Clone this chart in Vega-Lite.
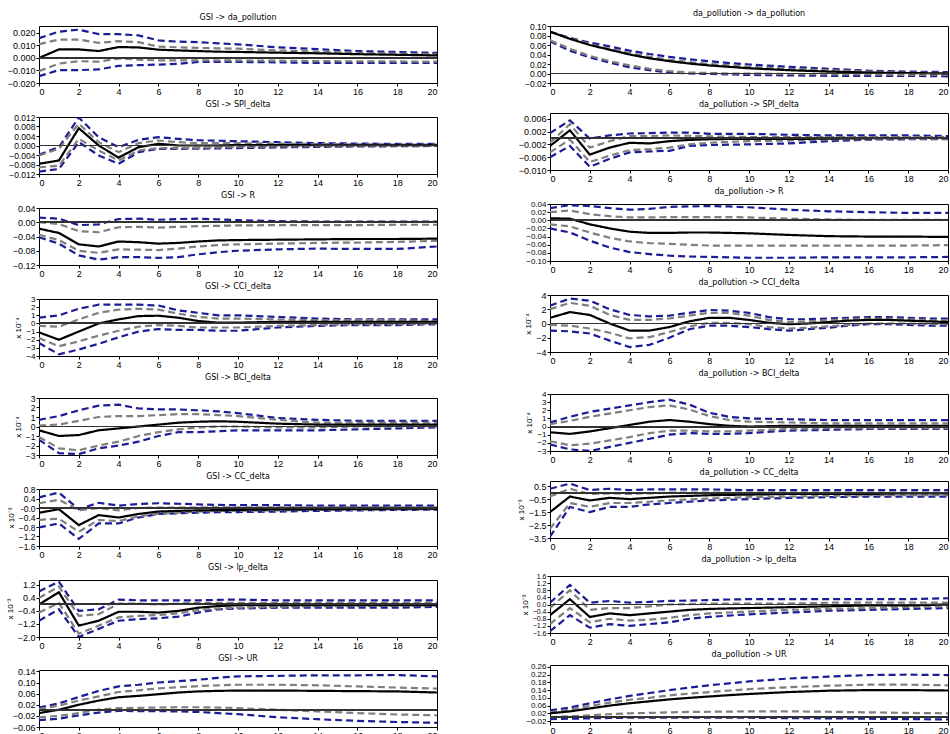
{
"$schema":"https://vega.github.io/schema/vega-lite/v6.json",
"padding":{"left":5,"top":9,"right":0,"bottom":0},
"datasets":{
"p1":[{"h":0,"m":0.0,"g1":0.011,"g2":-0.0105,"b1":0.0158,"b2":-0.0145},{"h":1,"m":0.0068,"g1":0.0147,"g2":-0.0045,"b1":0.021,"b2":-0.0097},{"h":2,"m":0.0068,"g1":0.0147,"g2":-0.0026,"b1":0.0226,"b2":-0.0097},{"h":3,"m":0.0055,"g1":0.012,"g2":-0.003,"b1":0.019,"b2":-0.0092},{"h":4,"m":0.0087,"g1":0.0134,"g2":-0.0005,"b1":0.019,"b2":-0.0063},{"h":5,"m":0.0084,"g1":0.0126,"g2":-0.0013,"b1":0.018,"b2":-0.0058},{"h":6,"m":0.0066,"g1":0.009,"g2":-0.002,"b1":0.014,"b2":-0.0053},{"h":7,"m":0.006,"g1":0.0085,"g2":-0.002,"b1":0.013,"b2":-0.0047},{"h":8,"m":0.0055,"g1":0.008,"g2":-0.002,"b1":0.0126,"b2":-0.0032},{"h":9,"m":0.005,"g1":0.0077,"g2":-0.002,"b1":0.0117,"b2":-0.0032},{"h":10,"m":0.0048,"g1":0.0074,"g2":-0.002,"b1":0.0108,"b2":-0.0032},{"h":12,"m":0.0042,"g1":0.006,"g2":-0.0022,"b1":0.0085,"b2":-0.0035},{"h":14,"m":0.0037,"g1":0.005,"g2":-0.0025,"b1":0.007,"b2":-0.004},{"h":16,"m":0.003,"g1":0.004,"g2":-0.0027,"b1":0.0055,"b2":-0.004},{"h":18,"m":0.0025,"g1":0.0035,"g2":-0.0028,"b1":0.0048,"b2":-0.004},{"h":20,"m":0.002,"g1":0.003,"g2":-0.003,"b1":0.004,"b2":-0.004}],
"p2":[{"h":0,"m":-0.0077,"g1":-0.0042,"g2":-0.0092,"b1":-0.0039,"b2":-0.011},{"h":1,"m":-0.0063,"g1":-0.0014,"g2":-0.0085,"b1":-0.0007,"b2":-0.0099},{"h":2,"m":0.0073,"g1":0.0092,"g2":0.0028,"b1":0.0118,"b2":0.0014},{"h":3,"m":0.0,"g1":0.0014,"g2":-0.0021,"b1":0.0035,"b2":-0.0042},{"h":4,"m":-0.0051,"g1":-0.0028,"g2":-0.0063,"b1":-0.0007,"b2":-0.0077},{"h":5,"m":-0.0007,"g1":0.001,"g2":-0.0021,"b1":0.0024,"b2":-0.0028},{"h":6,"m":0.0007,"g1":0.0021,"g2":-0.0011,"b1":0.0035,"b2":-0.0014},{"h":7,"m":0.0,"g1":0.0014,"g2":-0.0011,"b1":0.0028,"b2":-0.0014},{"h":8,"m":0.0,"g1":0.001,"g2":-0.001,"b1":0.0022,"b2":-0.0013},{"h":9,"m":0.0,"g1":0.001,"g2":-0.0008,"b1":0.002,"b2":-0.0012},{"h":10,"m":0.0002,"g1":0.001,"g2":-0.0006,"b1":0.0018,"b2":-0.0011},{"h":12,"m":0.0002,"g1":0.0008,"g2":-0.0004,"b1":0.0014,"b2":-0.0008},{"h":14,"m":0.0001,"g1":0.0006,"g2":-0.0003,"b1":0.001,"b2":-0.0006},{"h":16,"m":0.0001,"g1":0.0005,"g2":-0.0002,"b1":0.0008,"b2":-0.0004},{"h":18,"m":0.0001,"g1":0.0004,"g2":-0.0001,"b1":0.0007,"b2":-0.0003},{"h":20,"m":0.0001,"g1":0.0004,"g2":-0.0001,"b1":0.0007,"b2":-0.0002}],
"p3":[{"h":0,"m":-0.018,"g1":0.0,"g2":-0.035,"b1":0.013,"b2":-0.042},{"h":1,"m":-0.03,"g1":-0.005,"g2":-0.05,"b1":0.01,"b2":-0.06},{"h":2,"m":-0.062,"g1":-0.025,"g2":-0.08,"b1":-0.008,"b2":-0.093},{"h":3,"m":-0.068,"g1":-0.028,"g2":-0.086,"b1":-0.006,"b2":-0.105},{"h":4,"m":-0.054,"g1":-0.014,"g2":-0.076,"b1":0.009,"b2":-0.098},{"h":5,"m":-0.056,"g1":-0.013,"g2":-0.077,"b1":0.01,"b2":-0.098},{"h":6,"m":-0.06,"g1":-0.015,"g2":-0.078,"b1":0.007,"b2":-0.1},{"h":7,"m":-0.058,"g1":-0.013,"g2":-0.074,"b1":0.009,"b2":-0.098},{"h":8,"m":-0.054,"g1":-0.011,"g2":-0.068,"b1":0.01,"b2":-0.09},{"h":9,"m":-0.051,"g1":-0.01,"g2":-0.064,"b1":0.008,"b2":-0.084},{"h":10,"m":-0.05,"g1":-0.009,"g2":-0.062,"b1":0.006,"b2":-0.08},{"h":12,"m":-0.049,"g1":-0.008,"g2":-0.06,"b1":0.003,"b2":-0.076},{"h":14,"m":-0.048,"g1":-0.008,"g2":-0.058,"b1":0.002,"b2":-0.074},{"h":16,"m":-0.047,"g1":-0.008,"g2":-0.057,"b1":0.002,"b2":-0.075},{"h":18,"m":-0.047,"g1":-0.007,"g2":-0.055,"b1":0.002,"b2":-0.075},{"h":20,"m":-0.046,"g1":-0.007,"g2":-0.052,"b1":0.002,"b2":-0.068}],
"p4":[{"h":0,"m":-1.1,"g1":-0.3,"g2":-1.8,"b1":0.7,"b2":-2.4},{"h":1,"m":-2.0,"g1":-0.4,"g2":-2.8,"b1":1.0,"b2":-3.8},{"h":2,"m":-1.0,"g1":0.5,"g2":-2.2,"b1":1.8,"b2":-3.2},{"h":3,"m":0.0,"g1":1.3,"g2":-1.5,"b1":2.3,"b2":-2.5},{"h":4,"m":0.5,"g1":1.7,"g2":-0.9,"b1":2.3,"b2":-1.7},{"h":5,"m":0.9,"g1":1.8,"g2":-0.4,"b1":2.3,"b2":-1.0},{"h":6,"m":0.95,"g1":1.7,"g2":-0.2,"b1":2.2,"b2":-0.7},{"h":7,"m":0.7,"g1":1.2,"g2":-0.3,"b1":1.6,"b2":-0.8},{"h":8,"m":0.3,"g1":0.8,"g2":-0.5,"b1":1.3,"b2":-0.8},{"h":9,"m":0.1,"g1":0.6,"g2":-0.5,"b1":1.0,"b2":-0.9},{"h":10,"m":0.1,"g1":0.6,"g2":-0.5,"b1":1.0,"b2":-0.9},{"h":12,"m":0.2,"g1":0.5,"g2":-0.3,"b1":0.8,"b2":-0.5},{"h":14,"m":0.2,"g1":0.4,"g2":-0.2,"b1":0.6,"b2":-0.3},{"h":16,"m":0.2,"g1":0.4,"g2":-0.1,"b1":0.5,"b2":-0.2},{"h":18,"m":0.2,"g1":0.4,"g2":-0.1,"b1":0.5,"b2":-0.2},{"h":20,"m":0.2,"g1":0.3,"g2":0.0,"b1":0.5,"b2":-0.1}],
"p5":[{"h":0,"m":-0.4,"g1":0.1,"g2":-1.1,"b1":0.7,"b2":-1.4},{"h":1,"m":-1.0,"g1":0.2,"g2":-2.3,"b1":1.1,"b2":-2.8},{"h":2,"m":-0.9,"g1":0.6,"g2":-2.5,"b1":1.7,"b2":-2.9},{"h":3,"m":-0.4,"g1":1.0,"g2":-2.0,"b1":2.2,"b2":-2.3},{"h":4,"m":-0.2,"g1":1.1,"g2":-1.6,"b1":2.3,"b2":-2.0},{"h":5,"m":0.0,"g1":1.1,"g2":-1.0,"b1":1.9,"b2":-1.6},{"h":6,"m":0.2,"g1":1.2,"g2":-0.6,"b1":1.8,"b2":-1.0},{"h":7,"m":0.4,"g1":1.3,"g2":-0.3,"b1":1.8,"b2":-0.6},{"h":8,"m":0.5,"g1":1.3,"g2":-0.1,"b1":1.7,"b2":-0.6},{"h":9,"m":0.55,"g1":1.2,"g2":0.0,"b1":1.6,"b2":-0.5},{"h":10,"m":0.5,"g1":1.1,"g2":0.0,"b1":1.4,"b2":-0.4},{"h":12,"m":0.3,"g1":0.7,"g2":-0.1,"b1":0.9,"b2":-0.4},{"h":14,"m":0.2,"g1":0.4,"g2":-0.1,"b1":0.7,"b2":-0.4},{"h":16,"m":0.2,"g1":0.4,"g2":0.0,"b1":0.6,"b2":-0.3},{"h":18,"m":0.2,"g1":0.4,"g2":0.0,"b1":0.6,"b2":-0.2},{"h":20,"m":0.2,"g1":0.4,"g2":0.0,"b1":0.6,"b2":-0.1}],
"p6":[{"h":0,"m":-0.2,"g1":0.2,"g2":-0.5,"b1":0.45,"b2":-0.82},{"h":1,"m":-0.05,"g1":0.35,"g2":-0.45,"b1":0.65,"b2":-0.65},{"h":2,"m":-0.72,"g1":-0.1,"g2":-1.0,"b1":-0.05,"b2":-1.3},{"h":3,"m":-0.3,"g1":0.0,"g2":-0.5,"b1":0.22,"b2":-0.65},{"h":4,"m":-0.4,"g1":-0.1,"g2":-0.55,"b1":0.1,"b2":-0.65},{"h":5,"m":-0.25,"g1":0.0,"g2":-0.35,"b1":0.17,"b2":-0.4},{"h":6,"m":-0.15,"g1":0.02,"g2":-0.25,"b1":0.2,"b2":-0.25},{"h":7,"m":-0.12,"g1":0.02,"g2":-0.2,"b1":0.18,"b2":-0.22},{"h":8,"m":-0.1,"g1":0.02,"g2":-0.15,"b1":0.15,"b2":-0.2},{"h":9,"m":-0.09,"g1":0.03,"g2":-0.13,"b1":0.13,"b2":-0.18},{"h":10,"m":-0.08,"g1":0.03,"g2":-0.12,"b1":0.12,"b2":-0.17},{"h":12,"m":-0.06,"g1":0.03,"g2":-0.1,"b1":0.12,"b2":-0.15},{"h":14,"m":-0.05,"g1":0.03,"g2":-0.08,"b1":0.1,"b2":-0.12},{"h":16,"m":-0.04,"g1":0.03,"g2":-0.07,"b1":0.1,"b2":-0.1},{"h":18,"m":-0.03,"g1":0.03,"g2":-0.06,"b1":0.1,"b2":-0.08},{"h":20,"m":-0.03,"g1":0.03,"g2":-0.05,"b1":0.1,"b2":-0.07}],
"p7":[{"h":0,"m":0.0,"g1":0.4,"g2":-0.5,"b1":0.8,"b2":-1.0},{"h":1,"m":0.75,"g1":1.1,"g2":0.1,"b1":1.4,"b2":-0.3},{"h":2,"m":-1.3,"g1":-0.7,"g2":-1.8,"b1":-0.4,"b2":-2.0},{"h":3,"m":-1.0,"g1":-0.6,"g2":-1.3,"b1":-0.3,"b2":-1.5},{"h":4,"m":-0.45,"g1":0.05,"g2":-0.8,"b1":0.3,"b2":-1.0},{"h":5,"m":-0.45,"g1":0.05,"g2":-0.7,"b1":0.25,"b2":-0.9},{"h":6,"m":-0.5,"g1":0.0,"g2":-0.65,"b1":0.25,"b2":-0.85},{"h":7,"m":-0.4,"g1":0.05,"g2":-0.55,"b1":0.25,"b2":-0.75},{"h":8,"m":-0.2,"g1":0.1,"g2":-0.35,"b1":0.25,"b2":-0.5},{"h":9,"m":-0.1,"g1":0.1,"g2":-0.25,"b1":0.28,"b2":-0.3},{"h":10,"m":-0.05,"g1":0.1,"g2":-0.2,"b1":0.3,"b2":-0.25},{"h":12,"m":-0.05,"g1":0.1,"g2":-0.15,"b1":0.25,"b2":-0.2},{"h":14,"m":-0.05,"g1":0.1,"g2":-0.1,"b1":0.25,"b2":-0.2},{"h":16,"m":-0.05,"g1":0.1,"g2":-0.1,"b1":0.25,"b2":-0.2},{"h":18,"m":-0.05,"g1":0.1,"g2":-0.08,"b1":0.25,"b2":-0.2},{"h":20,"m":-0.05,"g1":0.1,"g2":-0.08,"b1":0.25,"b2":-0.15}],
"p8":[{"h":0,"m":-0.01,"g1":0.004,"g2":-0.025,"b1":0.01,"b2":-0.035},{"h":1,"m":0.002,"g1":0.017,"g2":-0.02,"b1":0.025,"b2":-0.03},{"h":2,"m":0.02,"g1":0.035,"g2":-0.01,"b1":0.048,"b2":-0.018},{"h":3,"m":0.035,"g1":0.05,"g2":0.003,"b1":0.07,"b2":-0.008},{"h":4,"m":0.047,"g1":0.066,"g2":0.008,"b1":0.086,"b2":-0.002},{"h":5,"m":0.052,"g1":0.072,"g2":0.009,"b1":0.092,"b2":-0.003},{"h":6,"m":0.058,"g1":0.079,"g2":0.01,"b1":0.1,"b2":-0.003},{"h":7,"m":0.064,"g1":0.083,"g2":0.011,"b1":0.105,"b2":-0.004},{"h":8,"m":0.068,"g1":0.087,"g2":0.011,"b1":0.11,"b2":-0.006},{"h":9,"m":0.07,"g1":0.09,"g2":0.01,"b1":0.117,"b2":-0.01},{"h":10,"m":0.071,"g1":0.092,"g2":0.008,"b1":0.122,"b2":-0.014},{"h":12,"m":0.071,"g1":0.092,"g2":0.002,"b1":0.124,"b2":-0.025},{"h":14,"m":0.07,"g1":0.09,"g2":-0.004,"b1":0.126,"b2":-0.032},{"h":16,"m":0.069,"g1":0.086,"g2":-0.01,"b1":0.126,"b2":-0.038},{"h":18,"m":0.068,"g1":0.082,"g2":-0.015,"b1":0.127,"b2":-0.042},{"h":20,"m":0.064,"g1":0.078,"g2":-0.018,"b1":0.122,"b2":-0.045}],
"p9":[{"h":0,"m":0.088,"g1":0.088,"g2":0.07,"b1":0.088,"b2":0.068},{"h":1,"m":0.073,"g1":0.074,"g2":0.052,"b1":0.075,"b2":0.048},{"h":2,"m":0.06,"g1":0.062,"g2":0.037,"b1":0.065,"b2":0.034},{"h":3,"m":0.05,"g1":0.052,"g2":0.026,"b1":0.057,"b2":0.023},{"h":4,"m":0.04,"g1":0.043,"g2":0.017,"b1":0.048,"b2":0.013},{"h":5,"m":0.032,"g1":0.035,"g2":0.01,"b1":0.041,"b2":0.007},{"h":6,"m":0.026,"g1":0.029,"g2":0.005,"b1":0.035,"b2":0.002},{"h":7,"m":0.021,"g1":0.024,"g2":0.002,"b1":0.03,"b2":0.0},{"h":8,"m":0.017,"g1":0.02,"g2":0.001,"b1":0.026,"b2":-0.001},{"h":9,"m":0.014,"g1":0.017,"g2":0.0,"b1":0.022,"b2":-0.002},{"h":10,"m":0.011,"g1":0.014,"g2":0.0,"b1":0.019,"b2":-0.003},{"h":12,"m":0.007,"g1":0.01,"g2":-0.001,"b1":0.014,"b2":-0.004},{"h":14,"m":0.004,"g1":0.007,"g2":-0.002,"b1":0.01,"b2":-0.005},{"h":16,"m":0.002,"g1":0.004,"g2":-0.002,"b1":0.006,"b2":-0.005},{"h":18,"m":0.001,"g1":0.002,"g2":-0.003,"b1":0.004,"b2":-0.005},{"h":20,"m":0.0,"g1":0.001,"g2":-0.003,"b1":0.003,"b2":-0.006}],
"p10":[{"h":0,"m":-0.0025,"g1":-0.0015,"g2":-0.0045,"b1":0.0015,"b2":-0.006},{"h":1,"m":0.0024,"g1":0.0043,"g2":-0.0005,"b1":0.0055,"b2":-0.0025},{"h":2,"m":-0.0052,"g1":-0.003,"g2":-0.0075,"b1":-0.0002,"b2":-0.009},{"h":3,"m":-0.003,"g1":-0.001,"g2":-0.0055,"b1":0.0008,"b2":-0.0065},{"h":4,"m":-0.0015,"g1":0.0006,"g2":-0.0038,"b1":0.0014,"b2":-0.0045},{"h":5,"m":-0.0017,"g1":0.0006,"g2":-0.0035,"b1":0.0015,"b2":-0.0042},{"h":6,"m":-0.001,"g1":0.0008,"g2":-0.003,"b1":0.0017,"b2":-0.004},{"h":7,"m":-0.0006,"g1":0.0007,"g2":-0.002,"b1":0.0017,"b2":-0.0025},{"h":8,"m":-0.0004,"g1":0.0005,"g2":-0.0015,"b1":0.0013,"b2":-0.0022},{"h":9,"m":-0.0003,"g1":0.0004,"g2":-0.0012,"b1":0.0013,"b2":-0.0021},{"h":10,"m":-0.0003,"g1":0.0003,"g2":-0.001,"b1":0.0013,"b2":-0.002},{"h":12,"m":-0.0003,"g1":0.0003,"g2":-0.0008,"b1":0.001,"b2":-0.0017},{"h":14,"m":-0.0002,"g1":0.0003,"g2":-0.0005,"b1":0.0008,"b2":-0.001},{"h":16,"m":-0.0001,"g1":0.0003,"g2":-0.0003,"b1":0.0008,"b2":-0.0005},{"h":18,"m":0.0,"g1":0.0003,"g2":-0.0002,"b1":0.0008,"b2":-0.0004},{"h":20,"m":0.0,"g1":0.0003,"g2":-0.0002,"b1":0.0006,"b2":-0.0004}],
"p11":[{"h":0,"m":0.005,"g1":0.02,"g2":-0.01,"b1":0.03,"b2":-0.02},{"h":1,"m":0.004,"g1":0.024,"g2":-0.015,"b1":0.037,"b2":-0.03},{"h":2,"m":-0.01,"g1":0.015,"g2":-0.03,"b1":0.035,"b2":-0.05},{"h":3,"m":-0.02,"g1":0.01,"g2":-0.043,"b1":0.03,"b2":-0.067},{"h":4,"m":-0.028,"g1":0.007,"g2":-0.052,"b1":0.026,"b2":-0.078},{"h":5,"m":-0.031,"g1":0.007,"g2":-0.056,"b1":0.028,"b2":-0.083},{"h":6,"m":-0.031,"g1":0.008,"g2":-0.058,"b1":0.033,"b2":-0.087},{"h":7,"m":-0.03,"g1":0.008,"g2":-0.06,"b1":0.034,"b2":-0.089},{"h":8,"m":-0.03,"g1":0.008,"g2":-0.062,"b1":0.035,"b2":-0.09},{"h":9,"m":-0.031,"g1":0.008,"g2":-0.062,"b1":0.034,"b2":-0.091},{"h":10,"m":-0.032,"g1":0.007,"g2":-0.062,"b1":0.032,"b2":-0.092},{"h":12,"m":-0.036,"g1":0.004,"g2":-0.062,"b1":0.026,"b2":-0.092},{"h":14,"m":-0.039,"g1":0.002,"g2":-0.062,"b1":0.022,"b2":-0.091},{"h":16,"m":-0.04,"g1":0.001,"g2":-0.062,"b1":0.02,"b2":-0.091},{"h":18,"m":-0.04,"g1":0.001,"g2":-0.062,"b1":0.018,"b2":-0.091},{"h":20,"m":-0.041,"g1":0.001,"g2":-0.061,"b1":0.018,"b2":-0.09}],
"p12":[{"h":0,"m":0.8,"g1":2.0,"g2":-0.2,"b1":2.5,"b2":-1.0},{"h":1,"m":1.6,"g1":2.9,"g2":-0.3,"b1":3.5,"b2":-1.1},{"h":2,"m":1.2,"g1":2.5,"g2":-0.7,"b1":3.2,"b2":-1.4},{"h":3,"m":0.0,"g1":1.2,"g2":-1.3,"b1":2.0,"b2":-2.4},{"h":4,"m":-1.0,"g1":0.5,"g2":-2.1,"b1":1.2,"b2":-3.3},{"h":5,"m":-1.0,"g1":0.5,"g2":-1.9,"b1":1.0,"b2":-3.0},{"h":6,"m":-0.5,"g1":0.7,"g2":-1.2,"b1":1.1,"b2":-2.0},{"h":7,"m":0.3,"g1":1.1,"g2":-0.4,"b1":1.5,"b2":-0.8},{"h":8,"m":0.8,"g1":1.5,"g2":0.1,"b1":1.9,"b2":-0.3},{"h":9,"m":0.8,"g1":1.5,"g2":0.1,"b1":1.8,"b2":-0.3},{"h":10,"m":0.5,"g1":1.1,"g2":-0.1,"b1":1.5,"b2":-0.5},{"h":11,"m":0.1,"g1":0.5,"g2":-0.5,"b1":0.9,"b2":-0.8},{"h":12,"m":-0.1,"g1":0.2,"g2":-0.7,"b1":0.6,"b2":-1.0},{"h":13,"m":0.0,"g1":0.3,"g2":-0.6,"b1":0.6,"b2":-0.8},{"h":14,"m":0.2,"g1":0.5,"g2":-0.4,"b1":0.7,"b2":-0.6},{"h":15,"m":0.4,"g1":0.6,"g2":-0.2,"b1":0.8,"b2":-0.3},{"h":16,"m":0.5,"g1":0.7,"g2":0.0,"b1":0.9,"b2":-0.1},{"h":17,"m":0.5,"g1":0.7,"g2":0.0,"b1":0.9,"b2":-0.1},{"h":18,"m":0.4,"g1":0.6,"g2":0.0,"b1":0.8,"b2":-0.2},{"h":19,"m":0.3,"g1":0.5,"g2":-0.1,"b1":0.7,"b2":-0.3},{"h":20,"m":0.2,"g1":0.4,"g2":-0.1,"b1":0.7,"b2":-0.3}],
"p13":[{"h":0,"m":-0.7,"g1":0.3,"g2":-1.8,"b1":0.5,"b2":-2.2},{"h":1,"m":-0.9,"g1":0.7,"g2":-2.3,"b1":1.2,"b2":-2.8},{"h":2,"m":-0.6,"g1":1.2,"g2":-2.1,"b1":1.8,"b2":-3.0},{"h":3,"m":-0.2,"g1":1.6,"g2":-1.7,"b1":2.2,"b2":-2.5},{"h":4,"m":0.2,"g1":2.0,"g2":-1.3,"b1":2.6,"b2":-2.0},{"h":5,"m":0.6,"g1":2.4,"g2":-0.8,"b1":3.0,"b2":-1.5},{"h":6,"m":0.8,"g1":2.6,"g2":-0.5,"b1":3.3,"b2":-1.0},{"h":7,"m":0.6,"g1":2.1,"g2":-0.5,"b1":2.7,"b2":-0.8},{"h":8,"m":0.3,"g1":1.3,"g2":-0.6,"b1":1.7,"b2":-0.9},{"h":9,"m":0.1,"g1":0.8,"g2":-0.6,"b1":1.2,"b2":-0.9},{"h":10,"m":0.0,"g1":0.6,"g2":-0.5,"b1":1.0,"b2":-0.8},{"h":12,"m":0.1,"g1":0.5,"g2":-0.3,"b1":0.9,"b2":-0.5},{"h":14,"m":0.1,"g1":0.4,"g2":-0.2,"b1":0.8,"b2":-0.4},{"h":16,"m":0.1,"g1":0.4,"g2":-0.2,"b1":0.8,"b2":-0.3},{"h":18,"m":0.1,"g1":0.4,"g2":-0.2,"b1":0.8,"b2":-0.3},{"h":20,"m":0.1,"g1":0.4,"g2":-0.2,"b1":0.8,"b2":-0.3}],
"p14":[{"h":0,"m":-1.5,"g1":-0.3,"g2":-2.8,"b1":0.3,"b2":-3.4},{"h":1,"m":-0.3,"g1":0.3,"g2":-0.8,"b1":0.7,"b2":-1.1},{"h":2,"m":-0.6,"g1":-0.1,"g2":-1.1,"b1":0.2,"b2":-1.5},{"h":3,"m":-0.4,"g1":-0.05,"g2":-0.8,"b1":0.3,"b2":-1.1},{"h":4,"m":-0.5,"g1":-0.1,"g2":-0.8,"b1":0.2,"b2":-1.1},{"h":5,"m":-0.4,"g1":-0.05,"g2":-0.7,"b1":0.25,"b2":-0.9},{"h":6,"m":-0.3,"g1":0.0,"g2":-0.6,"b1":0.25,"b2":-0.8},{"h":7,"m":-0.25,"g1":0.0,"g2":-0.52,"b1":0.25,"b2":-0.7},{"h":8,"m":-0.2,"g1":0.0,"g2":-0.45,"b1":0.25,"b2":-0.6},{"h":9,"m":-0.17,"g1":0.0,"g2":-0.4,"b1":0.22,"b2":-0.55},{"h":10,"m":-0.15,"g1":0.0,"g2":-0.35,"b1":0.2,"b2":-0.5},{"h":12,"m":-0.1,"g1":0.0,"g2":-0.3,"b1":0.2,"b2":-0.4},{"h":14,"m":-0.1,"g1":0.0,"g2":-0.25,"b1":0.2,"b2":-0.35},{"h":16,"m":-0.1,"g1":0.0,"g2":-0.2,"b1":0.2,"b2":-0.3},{"h":18,"m":-0.05,"g1":0.0,"g2":-0.2,"b1":0.2,"b2":-0.3},{"h":20,"m":-0.05,"g1":0.0,"g2":-0.2,"b1":0.2,"b2":-0.3}],
"p15":[{"h":0,"m":-0.6,"g1":-0.2,"g2":-1.1,"b1":0.1,"b2":-1.5},{"h":1,"m":0.3,"g1":0.8,"g2":-0.2,"b1":1.1,"b2":-0.6},{"h":2,"m":-0.7,"g1":-0.3,"g2":-1.0,"b1":0.1,"b2":-1.3},{"h":3,"m":-0.5,"g1":-0.2,"g2":-0.8,"b1":0.2,"b2":-1.1},{"h":4,"m":-0.6,"g1":-0.2,"g2":-0.9,"b1":0.1,"b2":-1.2},{"h":5,"m":-0.5,"g1":-0.1,"g2":-0.85,"b1":0.15,"b2":-1.1},{"h":6,"m":-0.4,"g1":0.0,"g2":-0.75,"b1":0.2,"b2":-1.0},{"h":7,"m":-0.3,"g1":0.02,"g2":-0.6,"b1":0.22,"b2":-0.8},{"h":8,"m":-0.25,"g1":0.05,"g2":-0.5,"b1":0.25,"b2":-0.7},{"h":9,"m":-0.22,"g1":0.05,"g2":-0.45,"b1":0.28,"b2":-0.62},{"h":10,"m":-0.2,"g1":0.05,"g2":-0.4,"b1":0.3,"b2":-0.55},{"h":12,"m":-0.15,"g1":0.05,"g2":-0.3,"b1":0.3,"b2":-0.45},{"h":14,"m":-0.1,"g1":0.1,"g2":-0.25,"b1":0.3,"b2":-0.35},{"h":16,"m":-0.05,"g1":0.1,"g2":-0.2,"b1":0.3,"b2":-0.3},{"h":18,"m":-0.05,"g1":0.1,"g2":-0.15,"b1":0.3,"b2":-0.25},{"h":20,"m":0.0,"g1":0.1,"g2":-0.1,"b1":0.35,"b2":-0.2}],
"p16":[{"h":0,"m":0.02,"g1":0.025,"g2":0.0,"b1":0.035,"b2":-0.01},{"h":1,"m":0.03,"g1":0.04,"g2":0.005,"b1":0.05,"b2":-0.008},{"h":2,"m":0.045,"g1":0.058,"g2":0.01,"b1":0.072,"b2":-0.006},{"h":3,"m":0.06,"g1":0.075,"g2":0.015,"b1":0.092,"b2":-0.004},{"h":4,"m":0.072,"g1":0.09,"g2":0.02,"b1":0.11,"b2":-0.003},{"h":5,"m":0.082,"g1":0.1,"g2":0.022,"b1":0.125,"b2":-0.003},{"h":6,"m":0.092,"g1":0.113,"g2":0.025,"b1":0.14,"b2":-0.002},{"h":7,"m":0.1,"g1":0.122,"g2":0.027,"b1":0.153,"b2":-0.002},{"h":8,"m":0.107,"g1":0.13,"g2":0.028,"b1":0.165,"b2":-0.002},{"h":9,"m":0.114,"g1":0.138,"g2":0.029,"b1":0.175,"b2":-0.002},{"h":10,"m":0.12,"g1":0.145,"g2":0.03,"b1":0.185,"b2":-0.003},{"h":12,"m":0.13,"g1":0.155,"g2":0.03,"b1":0.2,"b2":-0.005},{"h":14,"m":0.137,"g1":0.163,"g2":0.028,"b1":0.21,"b2":-0.006},{"h":16,"m":0.14,"g1":0.168,"g2":0.025,"b1":0.218,"b2":-0.008},{"h":18,"m":0.14,"g1":0.168,"g2":0.022,"b1":0.22,"b2":-0.01},{"h":20,"m":0.138,"g1":0.165,"g2":0.02,"b1":0.218,"b2":-0.012}]
},
"hconcat":[
{"spacing":3,"vconcat":[
{"title":"GSI -> da_pollution","width":398,"height":57,"data":{"name":"p1"},"layer":[
{"transform":[{"fold":["b1","b2","g1","g2","m"],"as":["s","v"]}],"mark":{"type":"line","clip":true},"encoding":{
"x":{"field":"h","type":"quantitative","scale":{"domain":[0,20],"nice":false},"axis":{"values":[0,2,4,6,8,10,12,14,16,18,20],"format":"d","title":null}},
"y":{"field":"v","type":"quantitative","scale":{"domain":[-0.02,0.0255],"nice":false,"zero":false},"axis":{"values":[-0.02,-0.01,0,0.01,0.02],"format":".3f","labelOverlap":false,"tickCount":20,"title":null}},
"color":{"field":"s","type":"nominal","scale":{"domain":["b1","b2","g1","g2","m"],"range":["#1c1c96","#1c1c96","#7f7f7f","#7f7f7f","#000000"]},"legend":null},
"strokeDash":{"field":"s","type":"nominal","scale":{"domain":["b1","b2","g1","g2","m"],"range":[[7,4],[7,4],[7,4],[7,4],[1,0]]},"legend":null},
"strokeWidth":{"field":"s","type":"ordinal","scale":{"domain":["b1","b2","g1","g2","m"],"range":[2.2,2.2,1.8,1.8,1.6]},"legend":null}}},
{"mark":{"type":"rule","color":"#333333","strokeWidth":1.2},"encoding":{"y":{"datum":0}}}]},
{"title":"GSI -> SPI_delta","width":398,"height":57,"data":{"name":"p2"},"layer":[
{"transform":[{"fold":["b1","b2","g1","g2","m"],"as":["s","v"]}],"mark":{"type":"line","clip":true},"encoding":{
"x":{"field":"h","type":"quantitative","scale":{"domain":[0,20],"nice":false},"axis":{"values":[0,2,4,6,8,10,12,14,16,18,20],"format":"d","title":null}},
"y":{"field":"v","type":"quantitative","scale":{"domain":[-0.012,0.012],"nice":false,"zero":false},"axis":{"values":[-0.012,-0.008,-0.004,0,0.004,0.008,0.012],"format":".3f","labelFontSize":8.5,"labelOverlap":false,"tickCount":20,"title":null}},
"color":{"field":"s","type":"nominal","scale":{"domain":["b1","b2","g1","g2","m"],"range":["#1c1c96","#1c1c96","#7f7f7f","#7f7f7f","#000000"]},"legend":null},
"strokeDash":{"field":"s","type":"nominal","scale":{"domain":["b1","b2","g1","g2","m"],"range":[[7,4],[7,4],[7,4],[7,4],[1,0]]},"legend":null},
"strokeWidth":{"field":"s","type":"ordinal","scale":{"domain":["b1","b2","g1","g2","m"],"range":[2.2,2.2,1.8,1.8,1.6]},"legend":null}}},
{"mark":{"type":"rule","color":"#333333","strokeWidth":1.2},"encoding":{"y":{"datum":0}}}]},
{"title":"GSI -> R","width":398,"height":57,"data":{"name":"p3"},"layer":[
{"transform":[{"fold":["b1","b2","g1","g2","m"],"as":["s","v"]}],"mark":{"type":"line","clip":true},"encoding":{
"x":{"field":"h","type":"quantitative","scale":{"domain":[0,20],"nice":false},"axis":{"values":[0,2,4,6,8,10,12,14,16,18,20],"format":"d","title":null}},
"y":{"field":"v","type":"quantitative","scale":{"domain":[-0.12,0.04],"nice":false,"zero":false},"axis":{"values":[-0.12,-0.08,-0.04,0,0.04],"format":".2f","labelOverlap":false,"tickCount":20,"title":null}},
"color":{"field":"s","type":"nominal","scale":{"domain":["b1","b2","g1","g2","m"],"range":["#1c1c96","#1c1c96","#7f7f7f","#7f7f7f","#000000"]},"legend":null},
"strokeDash":{"field":"s","type":"nominal","scale":{"domain":["b1","b2","g1","g2","m"],"range":[[7,4],[7,4],[7,4],[7,4],[1,0]]},"legend":null},
"strokeWidth":{"field":"s","type":"ordinal","scale":{"domain":["b1","b2","g1","g2","m"],"range":[2.2,2.2,1.8,1.8,1.6]},"legend":null}}},
{"mark":{"type":"rule","color":"#333333","strokeWidth":1.2},"encoding":{"y":{"datum":0}}}]},
{"title":"GSI -> CCI_delta","width":398,"height":57,"data":{"name":"p4"},"layer":[
{"transform":[{"fold":["b1","b2","g1","g2","m"],"as":["s","v"]}],"mark":{"type":"line","clip":true},"encoding":{
"x":{"field":"h","type":"quantitative","scale":{"domain":[0,20],"nice":false},"axis":{"values":[0,2,4,6,8,10,12,14,16,18,20],"format":"d","title":null}},
"y":{"field":"v","type":"quantitative","scale":{"domain":[-4,3],"nice":false,"zero":false},"axis":{"values":[-4,-3,-2,-1,0,1,2,3],"format":"d","labelFontSize":8,"labelOverlap":false,"tickCount":20,"title":"x 10⁻⁴"}},
"color":{"field":"s","type":"nominal","scale":{"domain":["b1","b2","g1","g2","m"],"range":["#1c1c96","#1c1c96","#7f7f7f","#7f7f7f","#000000"]},"legend":null},
"strokeDash":{"field":"s","type":"nominal","scale":{"domain":["b1","b2","g1","g2","m"],"range":[[7,4],[7,4],[7,4],[7,4],[1,0]]},"legend":null},
"strokeWidth":{"field":"s","type":"ordinal","scale":{"domain":["b1","b2","g1","g2","m"],"range":[2.2,2.2,1.8,1.8,1.6]},"legend":null}}},
{"mark":{"type":"rule","color":"#333333","strokeWidth":1.2},"encoding":{"y":{"datum":0}}}]},
{"title":{"text":"GSI -> BCI_delta","offset":12},"width":398,"height":57,"data":{"name":"p5"},"layer":[
{"transform":[{"fold":["b1","b2","g1","g2","m"],"as":["s","v"]}],"mark":{"type":"line","clip":true},"encoding":{
"x":{"field":"h","type":"quantitative","scale":{"domain":[0,20],"nice":false},"axis":{"values":[0,2,4,6,8,10,12,14,16,18,20],"format":"d","title":null}},
"y":{"field":"v","type":"quantitative","scale":{"domain":[-3,3],"nice":false,"zero":false},"axis":{"values":[-3,-2,-1,0,1,2,3],"format":"d","labelFontSize":8.5,"labelOverlap":false,"tickCount":20,"title":"x 10⁻⁴"}},
"color":{"field":"s","type":"nominal","scale":{"domain":["b1","b2","g1","g2","m"],"range":["#1c1c96","#1c1c96","#7f7f7f","#7f7f7f","#000000"]},"legend":null},
"strokeDash":{"field":"s","type":"nominal","scale":{"domain":["b1","b2","g1","g2","m"],"range":[[7,4],[7,4],[7,4],[7,4],[1,0]]},"legend":null},
"strokeWidth":{"field":"s","type":"ordinal","scale":{"domain":["b1","b2","g1","g2","m"],"range":[2.2,2.2,1.8,1.8,1.6]},"legend":null}}},
{"mark":{"type":"rule","color":"#333333","strokeWidth":1.2},"encoding":{"y":{"datum":0}}}]},
{"title":"GSI -> CC_delta","width":398,"height":57,"data":{"name":"p6"},"layer":[
{"transform":[{"fold":["b1","b2","g1","g2","m"],"as":["s","v"]}],"mark":{"type":"line","clip":true},"encoding":{
"x":{"field":"h","type":"quantitative","scale":{"domain":[0,20],"nice":false},"axis":{"values":[0,2,4,6,8,10,12,14,16,18,20],"format":"d","title":null}},
"y":{"field":"v","type":"quantitative","scale":{"domain":[-1.6,0.8],"nice":false,"zero":false},"axis":{"values":[-1.6,-1.2,-0.8,-0.4,0,0.4,0.8],"labelExpr":"datum.value == 0 ? '-0.0' : format(datum.value, '.1f')","labelFontSize":8.5,"labelOverlap":false,"tickCount":20,"title":"x 10⁻³"}},
"color":{"field":"s","type":"nominal","scale":{"domain":["b1","b2","g1","g2","m"],"range":["#1c1c96","#1c1c96","#7f7f7f","#7f7f7f","#000000"]},"legend":null},
"strokeDash":{"field":"s","type":"nominal","scale":{"domain":["b1","b2","g1","g2","m"],"range":[[7,4],[7,4],[7,4],[7,4],[1,0]]},"legend":null},
"strokeWidth":{"field":"s","type":"ordinal","scale":{"domain":["b1","b2","g1","g2","m"],"range":[2.2,2.2,1.8,1.8,1.6]},"legend":null}}},
{"mark":{"type":"rule","color":"#333333","strokeWidth":1.2},"encoding":{"y":{"datum":0}}}]},
{"title":{"text":"GSI -> lp_delta","offset":8},"width":398,"height":57,"data":{"name":"p7"},"layer":[
{"transform":[{"fold":["b1","b2","g1","g2","m"],"as":["s","v"]}],"mark":{"type":"line","clip":true},"encoding":{
"x":{"field":"h","type":"quantitative","scale":{"domain":[0,20],"nice":false},"axis":{"values":[0,2,4,6,8,10,12,14,16,18,20],"format":"d","title":null}},
"y":{"field":"v","type":"quantitative","scale":{"domain":[-2.0,1.5],"nice":false,"zero":false},"axis":{"values":[-2.0,-1.2,-0.4,0.4,1.2],"format":".1f","labelOverlap":false,"tickCount":20,"title":"x 10⁻³"}},
"color":{"field":"s","type":"nominal","scale":{"domain":["b1","b2","g1","g2","m"],"range":["#1c1c96","#1c1c96","#7f7f7f","#7f7f7f","#000000"]},"legend":null},
"strokeDash":{"field":"s","type":"nominal","scale":{"domain":["b1","b2","g1","g2","m"],"range":[[7,4],[7,4],[7,4],[7,4],[1,0]]},"legend":null},
"strokeWidth":{"field":"s","type":"ordinal","scale":{"domain":["b1","b2","g1","g2","m"],"range":[2.2,2.2,1.8,1.8,1.6]},"legend":null}}},
{"mark":{"type":"rule","color":"#333333","strokeWidth":1.2},"encoding":{"y":{"datum":0}}}]},
{"title":"GSI -> UR","width":398,"height":57,"data":{"name":"p8"},"layer":[
{"transform":[{"fold":["b1","b2","g1","g2","m"],"as":["s","v"]}],"mark":{"type":"line","clip":true},"encoding":{
"x":{"field":"h","type":"quantitative","scale":{"domain":[0,20],"nice":false},"axis":{"values":[0,2,4,6,8,10,12,14,16,18,20],"format":"d","title":null}},
"y":{"field":"v","type":"quantitative","scale":{"domain":[-0.06,0.145],"nice":false,"zero":false},"axis":{"values":[-0.06,-0.02,0.02,0.06,0.10,0.14],"format":".2f","labelOverlap":false,"tickCount":20,"title":null}},
"color":{"field":"s","type":"nominal","scale":{"domain":["b1","b2","g1","g2","m"],"range":["#1c1c96","#1c1c96","#7f7f7f","#7f7f7f","#000000"]},"legend":null},
"strokeDash":{"field":"s","type":"nominal","scale":{"domain":["b1","b2","g1","g2","m"],"range":[[7,4],[7,4],[7,4],[7,4],[1,0]]},"legend":null},
"strokeWidth":{"field":"s","type":"ordinal","scale":{"domain":["b1","b2","g1","g2","m"],"range":[2.2,2.2,1.8,1.8,1.6]},"legend":null}}},
{"mark":{"type":"rule","color":"#333333","strokeWidth":1.2},"encoding":{"y":{"datum":0}}}]}
]},
{"spacing":3,"vconcat":[
{"title":"da_pollution -> da_pollution","width":398,"height":57,"data":{"name":"p9"},"layer":[
{"transform":[{"fold":["b1","b2","g1","g2","m"],"as":["s","v"]}],"mark":{"type":"line","clip":true},"encoding":{
"x":{"field":"h","type":"quantitative","scale":{"domain":[0,20],"nice":false},"axis":{"values":[0,2,4,6,8,10,12,14,16,18,20],"format":"d","title":null}},
"y":{"field":"v","type":"quantitative","scale":{"domain":[-0.02,0.1],"nice":false,"zero":false},"axis":{"values":[-0.02,0,0.02,0.04,0.06,0.08,0.1],"format":".2f","labelFontSize":8.5,"labelOverlap":false,"tickCount":20,"title":null}},
"color":{"field":"s","type":"nominal","scale":{"domain":["b1","b2","g1","g2","m"],"range":["#1c1c96","#1c1c96","#7f7f7f","#7f7f7f","#000000"]},"legend":null},
"strokeDash":{"field":"s","type":"nominal","scale":{"domain":["b1","b2","g1","g2","m"],"range":[[7,4],[7,4],[7,4],[7,4],[1,0]]},"legend":null},
"strokeWidth":{"field":"s","type":"ordinal","scale":{"domain":["b1","b2","g1","g2","m"],"range":[2.2,2.2,1.8,1.8,1.6]},"legend":null}}},
{"mark":{"type":"rule","color":"#333333","strokeWidth":1.2},"encoding":{"y":{"datum":0}}}]},
{"title":"da_pollution -> SPI_delta","width":398,"height":57,"data":{"name":"p10"},"layer":[
{"transform":[{"fold":["b1","b2","g1","g2","m"],"as":["s","v"]}],"mark":{"type":"line","clip":true},"encoding":{
"x":{"field":"h","type":"quantitative","scale":{"domain":[0,20],"nice":false},"axis":{"values":[0,2,4,6,8,10,12,14,16,18,20],"format":"d","title":null}},
"y":{"field":"v","type":"quantitative","scale":{"domain":[-0.01,0.0078],"nice":false,"zero":false},"axis":{"values":[-0.01,-0.006,-0.002,0.002,0.006],"format":".3f","labelOverlap":false,"tickCount":20,"title":null}},
"color":{"field":"s","type":"nominal","scale":{"domain":["b1","b2","g1","g2","m"],"range":["#1c1c96","#1c1c96","#7f7f7f","#7f7f7f","#000000"]},"legend":null},
"strokeDash":{"field":"s","type":"nominal","scale":{"domain":["b1","b2","g1","g2","m"],"range":[[7,4],[7,4],[7,4],[7,4],[1,0]]},"legend":null},
"strokeWidth":{"field":"s","type":"ordinal","scale":{"domain":["b1","b2","g1","g2","m"],"range":[2.2,2.2,1.8,1.8,1.6]},"legend":null}}},
{"mark":{"type":"rule","color":"#333333","strokeWidth":1.2},"encoding":{"y":{"datum":0}}}]},
{"title":"da_pollution -> R","width":398,"height":57,"data":{"name":"p11"},"layer":[
{"transform":[{"fold":["b1","b2","g1","g2","m"],"as":["s","v"]}],"mark":{"type":"line","clip":true},"encoding":{
"x":{"field":"h","type":"quantitative","scale":{"domain":[0,20],"nice":false},"axis":{"values":[0,2,4,6,8,10,12,14,16,18,20],"format":"d","title":null}},
"y":{"field":"v","type":"quantitative","scale":{"domain":[-0.1,0.04],"nice":false,"zero":false},"axis":{"values":[-0.1,-0.08,-0.06,-0.04,-0.02,0,0.02,0.04],"format":".2f","labelFontSize":8,"labelOverlap":false,"tickCount":20,"title":null}},
"color":{"field":"s","type":"nominal","scale":{"domain":["b1","b2","g1","g2","m"],"range":["#1c1c96","#1c1c96","#7f7f7f","#7f7f7f","#000000"]},"legend":null},
"strokeDash":{"field":"s","type":"nominal","scale":{"domain":["b1","b2","g1","g2","m"],"range":[[7,4],[7,4],[7,4],[7,4],[1,0]]},"legend":null},
"strokeWidth":{"field":"s","type":"ordinal","scale":{"domain":["b1","b2","g1","g2","m"],"range":[2.2,2.2,1.8,1.8,1.6]},"legend":null}}},
{"mark":{"type":"rule","color":"#333333","strokeWidth":1.2},"encoding":{"y":{"datum":0}}}]},
{"title":"da_pollution -> CCI_delta","width":398,"height":57,"data":{"name":"p12"},"layer":[
{"transform":[{"fold":["b1","b2","g1","g2","m"],"as":["s","v"]}],"mark":{"type":"line","clip":true},"encoding":{
"x":{"field":"h","type":"quantitative","scale":{"domain":[0,20],"nice":false},"axis":{"values":[0,2,4,6,8,10,12,14,16,18,20],"format":"d","title":null}},
"y":{"field":"v","type":"quantitative","scale":{"domain":[-4,4],"nice":false,"zero":false},"axis":{"values":[-4,-2,0,2,4],"format":"d","labelOverlap":false,"tickCount":20,"title":"x 10⁻⁴"}},
"color":{"field":"s","type":"nominal","scale":{"domain":["b1","b2","g1","g2","m"],"range":["#1c1c96","#1c1c96","#7f7f7f","#7f7f7f","#000000"]},"legend":null},
"strokeDash":{"field":"s","type":"nominal","scale":{"domain":["b1","b2","g1","g2","m"],"range":[[7,4],[7,4],[7,4],[7,4],[1,0]]},"legend":null},
"strokeWidth":{"field":"s","type":"ordinal","scale":{"domain":["b1","b2","g1","g2","m"],"range":[2.2,2.2,1.8,1.8,1.6]},"legend":null}}},
{"mark":{"type":"rule","color":"#333333","strokeWidth":1.2},"encoding":{"y":{"datum":0}}}]},
{"title":{"text":"da_pollution -> BCI_delta","offset":12},"width":398,"height":57,"data":{"name":"p13"},"layer":[
{"transform":[{"fold":["b1","b2","g1","g2","m"],"as":["s","v"]}],"mark":{"type":"line","clip":true},"encoding":{
"x":{"field":"h","type":"quantitative","scale":{"domain":[0,20],"nice":false},"axis":{"values":[0,2,4,6,8,10,12,14,16,18,20],"format":"d","title":null}},
"y":{"field":"v","type":"quantitative","scale":{"domain":[-3,4],"nice":false,"zero":false},"axis":{"values":[-3,-2,-1,0,1,2,3,4],"format":"d","labelFontSize":8,"labelOverlap":false,"tickCount":20,"title":"x 10⁻⁴"}},
"color":{"field":"s","type":"nominal","scale":{"domain":["b1","b2","g1","g2","m"],"range":["#1c1c96","#1c1c96","#7f7f7f","#7f7f7f","#000000"]},"legend":null},
"strokeDash":{"field":"s","type":"nominal","scale":{"domain":["b1","b2","g1","g2","m"],"range":[[7,4],[7,4],[7,4],[7,4],[1,0]]},"legend":null},
"strokeWidth":{"field":"s","type":"ordinal","scale":{"domain":["b1","b2","g1","g2","m"],"range":[2.2,2.2,1.8,1.8,1.6]},"legend":null}}},
{"mark":{"type":"rule","color":"#333333","strokeWidth":1.2},"encoding":{"y":{"datum":0}}}]},
{"title":"da_pollution -> CC_delta","width":398,"height":57,"data":{"name":"p14"},"layer":[
{"transform":[{"fold":["b1","b2","g1","g2","m"],"as":["s","v"]}],"mark":{"type":"line","clip":true},"encoding":{
"x":{"field":"h","type":"quantitative","scale":{"domain":[0,20],"nice":false},"axis":{"values":[0,2,4,6,8,10,12,14,16,18,20],"format":"d","title":null}},
"y":{"field":"v","type":"quantitative","scale":{"domain":[-3.5,0.9],"nice":false,"zero":false},"axis":{"values":[-3.5,-2.5,-1.5,-0.5,0.5],"format":".1f","labelOverlap":false,"tickCount":20,"title":"x 10⁻³"}},
"color":{"field":"s","type":"nominal","scale":{"domain":["b1","b2","g1","g2","m"],"range":["#1c1c96","#1c1c96","#7f7f7f","#7f7f7f","#000000"]},"legend":null},
"strokeDash":{"field":"s","type":"nominal","scale":{"domain":["b1","b2","g1","g2","m"],"range":[[7,4],[7,4],[7,4],[7,4],[1,0]]},"legend":null},
"strokeWidth":{"field":"s","type":"ordinal","scale":{"domain":["b1","b2","g1","g2","m"],"range":[2.2,2.2,1.8,1.8,1.6]},"legend":null}}},
{"mark":{"type":"rule","color":"#333333","strokeWidth":1.2},"encoding":{"y":{"datum":0}}}]},
{"title":{"text":"da_pollution -> lp_delta","offset":8},"width":398,"height":57,"data":{"name":"p15"},"layer":[
{"transform":[{"fold":["b1","b2","g1","g2","m"],"as":["s","v"]}],"mark":{"type":"line","clip":true},"encoding":{
"x":{"field":"h","type":"quantitative","scale":{"domain":[0,20],"nice":false},"axis":{"values":[0,2,4,6,8,10,12,14,16,18,20],"format":"d","title":null}},
"y":{"field":"v","type":"quantitative","scale":{"domain":[-1.6,1.6],"nice":false,"zero":false},"axis":{"values":[-1.6,-1.2,-0.8,-0.4,0,0.4,0.8,1.2,1.6],"format":".1f","labelFontSize":7,"labelOverlap":false,"tickCount":20,"title":"x 10⁻³"}},
"color":{"field":"s","type":"nominal","scale":{"domain":["b1","b2","g1","g2","m"],"range":["#1c1c96","#1c1c96","#7f7f7f","#7f7f7f","#000000"]},"legend":null},
"strokeDash":{"field":"s","type":"nominal","scale":{"domain":["b1","b2","g1","g2","m"],"range":[[7,4],[7,4],[7,4],[7,4],[1,0]]},"legend":null},
"strokeWidth":{"field":"s","type":"ordinal","scale":{"domain":["b1","b2","g1","g2","m"],"range":[2.2,2.2,1.8,1.8,1.6]},"legend":null}}},
{"mark":{"type":"rule","color":"#333333","strokeWidth":1.2},"encoding":{"y":{"datum":0}}}]},
{"title":"da_pollution -> UR","width":398,"height":57,"data":{"name":"p16"},"layer":[
{"transform":[{"fold":["b1","b2","g1","g2","m"],"as":["s","v"]}],"mark":{"type":"line","clip":true},"encoding":{
"x":{"field":"h","type":"quantitative","scale":{"domain":[0,20],"nice":false},"axis":{"values":[0,2,4,6,8,10,12,14,16,18,20],"format":"d","title":null}},
"y":{"field":"v","type":"quantitative","scale":{"domain":[-0.025,0.27],"nice":false,"zero":false},"axis":{"values":[-0.02,0.02,0.06,0.1,0.14,0.18,0.22,0.26],"format":".2f","labelFontSize":8,"labelOverlap":false,"tickCount":20,"title":null}},
"color":{"field":"s","type":"nominal","scale":{"domain":["b1","b2","g1","g2","m"],"range":["#1c1c96","#1c1c96","#7f7f7f","#7f7f7f","#000000"]},"legend":null},
"strokeDash":{"field":"s","type":"nominal","scale":{"domain":["b1","b2","g1","g2","m"],"range":[[7,4],[7,4],[7,4],[7,4],[1,0]]},"legend":null},
"strokeWidth":{"field":"s","type":"ordinal","scale":{"domain":["b1","b2","g1","g2","m"],"range":[2.2,2.2,1.8,1.8,1.6]},"legend":null}}},
{"mark":{"type":"rule","color":"#333333","strokeWidth":1.2},"encoding":{"y":{"datum":0}}}]}
]}
],
"spacing":77,
"config":{
"view":{"stroke":"#000000","strokeWidth":1},
"axis":{"grid":false,"domain":false,"labelOverlap":false,"tickColor":"#000000","tickSize":3,"labelPadding":1,"labelFont":"Liberation Sans","labelFontSize":9,"labelColor":"#000000","titleFont":"Liberation Sans","titleFontSize":8,"titleFontWeight":"normal","titleColor":"#000000","titlePadding":3},
"title":{"font":"DejaVu Sans","fontSize":8,"fontWeight":"normal","color":"#000000","offset":4}
}
}
